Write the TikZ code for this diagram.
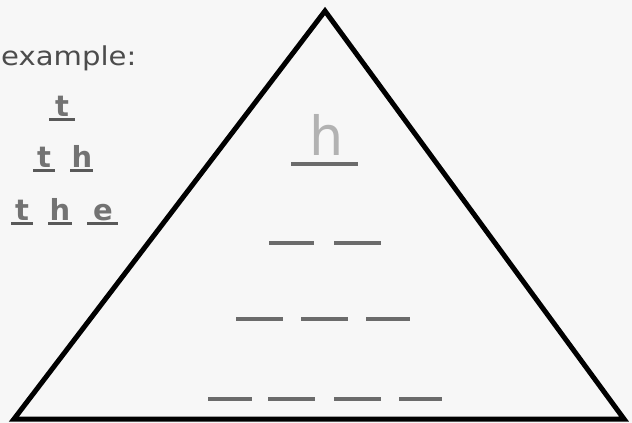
\documentclass[tikz,border=0pt]{standalone}
\usepackage{fontspec}
\setmainfont{DejaVu Sans}
\begin{document}
\begin{tikzpicture}[x=1pt,y=-1pt,
  letter/.style={anchor=base,inner sep=0pt,font=\fontsize{29}{30}\selectfont\bfseries,text=black!55},
  uline/.style={draw=black!65,line width=3pt},
  blank/.style={draw=black!58,line width=4pt},
  tri/.style={draw=black,line width=5pt,line join=miter}]
\fill[black!3] (0,0) rectangle (632,423);
\useasboundingbox (0,0) rectangle (632,423);
% example label
\node[anchor=base west,inner sep=0pt,xscale=1.12,font=\fontsize{26}{28}\selectfont,text=black!70] (ex) at (1,65) {example:};
% pyramid of letters
\node[letter] (t1) at (62,116) {t};
\draw[uline] (49,119) -- (75,119);
\node[letter] (t2) at (44,167) {t};
\node[letter] (h2) at (82,167) {h};
\draw[uline] (33,170) -- (55,170);
\draw[uline] (70,170) -- (93,170);
\node[letter] (t3) at (22,220) {t};
\node[letter] (h3) at (60,220) {h};
\node[letter] (e3) at (103,220) {e};
\draw[uline] (11,223) -- (33,223);
\draw[uline] (48,223) -- (72,223);
\draw[uline] (87,223) -- (118,223);
% triangle
\coordinate (apex) at (325,11);
\coordinate (bl) at (14,419);
\coordinate (br) at (624,419);
\draw[tri] (bl) -- (apex) -- (br) -- cycle;
% h on the top blank
\node[anchor=base,inner sep=0pt,font=\fontsize{54}{56}\selectfont,text=black!30] (h0) at (327,155) {h};
\draw[blank] (291,164) -- (358,164);
% row 2
\draw[blank] (269,243) -- (314,243);
\draw[blank] (334,243) -- (381,243);
% row 3
\draw[blank] (236,319) -- (283,319);
\draw[blank] (301,319) -- (348,319);
\draw[blank] (366,319) -- (410,319);
% row 4
\draw[blank] (208,399) -- (252,399);
\draw[blank] (268,399) -- (315,399);
\draw[blank] (334,399) -- (381,399);
\draw[blank] (399,399) -- (442,399);
\end{tikzpicture}
\end{document}
